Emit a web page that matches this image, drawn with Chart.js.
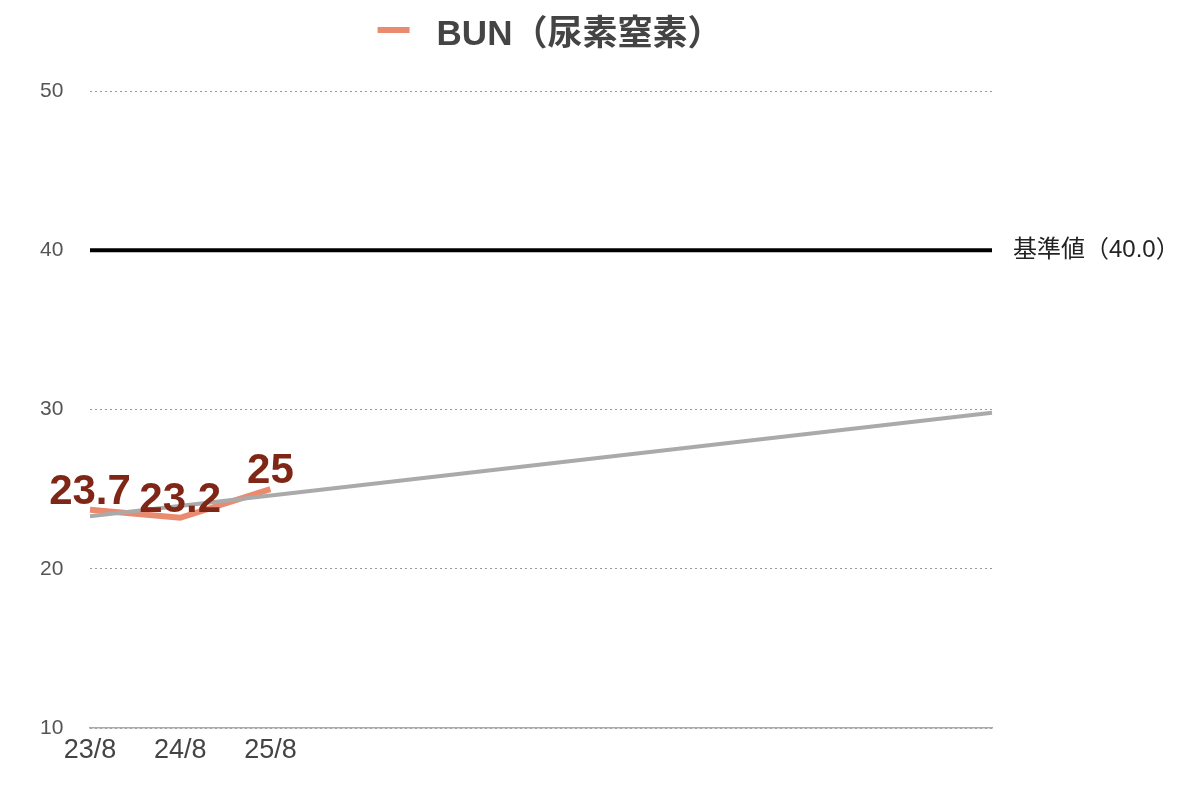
<!DOCTYPE html>
<html lang="ja">

<head>
    <meta charset="UTF-8">
    <title>BUN（尿素窒素）</title>
    <script src="https://cdn.jsdelivr.net/npm/chart.js"></script>
    <style>
        body { margin: 0; background: #fff; }
    </style>
</head>

<body>
    <canvas id="myChart" width="1188" height="790"></canvas>
    <script>
        // data
        const labels = ['23/8', '24/8', '25/8', '', '', '', '', '', '', '', ''];
        const bunValues = [23.7, 23.2, 25, null, null, null, null, null, null, null, null];
        const trendValues = [23.3, null, null, null, null, null, null, null, null, null, 29.8];
        const referenceValues = [40, 40, 40, 40, 40, 40, 40, 40, 40, 40, 40];
        const legendText = 'BUN（尿素窒素）';
        const referenceText = '基準値（40.0）';

        const FONT = "'Liberation Sans', 'Noto Sans CJK JP', sans-serif";
        const ORANGE = '#ea8b70';

        const extras = {
            id: 'extras',
            afterDraw(chart) {
                const ctx = chart.ctx;
                const area = chart.chartArea;
                const y = chart.scales.y;
                ctx.save();

                // legend
                ctx.font = 'bold 35px ' + FONT;
                const tw = ctx.measureText(legendText).width;
                const total = 32 + 27 + tw;
                const sx = (area.left + area.right) / 2 - total / 2 + 9;
                ctx.strokeStyle = ORANGE;
                ctx.lineWidth = 6;
                ctx.beginPath();
                ctx.moveTo(sx, 30);
                ctx.lineTo(sx + 32, 30);
                ctx.stroke();
                ctx.fillStyle = '#444';
                ctx.textBaseline = 'alphabetic';
                ctx.textAlign = 'left';
                ctx.fillText(legendText, sx + 59, 45);

                // reference label
                ctx.font = '24px ' + FONT;
                ctx.fillStyle = '#222';
                ctx.textBaseline = 'middle';
                ctx.fillText(referenceText, area.right + 21, y.getPixelForValue(40));

                // value labels
                const meta = chart.getDatasetMeta(1);
                ctx.font = 'bold 42px ' + FONT;
                ctx.fillStyle = '#802617';
                ctx.textAlign = 'center';
                ctx.textBaseline = 'alphabetic';
                bunValues.forEach((v, i) => {
                    if (v === null) return;
                    const pt = meta.data[i];
                    ctx.fillText(String(v), pt.x, pt.y - 6);
                });
                ctx.restore();
            }
        };

        const ctx = document.getElementById('myChart').getContext('2d');
        const myChart = new Chart(ctx, {
            type: 'line',
            data: {
                labels: labels,
                datasets: [{
                    label: 'trend',
                    data: trendValues,
                    borderColor: '#aaaaaa',
                    borderWidth: 4,
                    pointRadius: 0,
                    spanGaps: true
                }, {
                    label: legendText,
                    data: bunValues,
                    borderColor: ORANGE,
                    borderWidth: 6,
                    pointRadius: 0
                }, {
                    label: 'reference',
                    data: referenceValues,
                    borderColor: '#000',
                    borderWidth: 4,
                    pointRadius: 0
                }]
            },
            options: {
                responsive: false,
                animation: false,
                layout: {
                    padding: { left: 40, right: 196, top: 91, bottom: 0 }
                },
                plugins: {
                    legend: { display: false },
                    tooltip: { enabled: false }
                },
                scales: {
                    x: {
                        grid: { display: false, drawTicks: false },
                        border: { color: '#aaa', width: 1.5 },
                        ticks: {
                            color: '#444',
                            font: { family: FONT, size: 27 },
                            padding: 6,
                            maxRotation: 0,
                            autoSkip: false
                        },
                        afterFit(scale) { scale.height = 62; }
                    },
                    y: {
                        min: 10,
                        max: 50,
                        grid: { color: '#999', lineWidth: 1, drawTicks: false },
                        border: { display: false, dash: [2, 3] },
                        ticks: {
                            stepSize: 10,
                            color: '#555',
                            crossAlign: 'far',
                            font: { family: FONT, size: 21 }
                        },
                        afterFit(scale) { scale.width = 50; }
                    }
                }
            },
            plugins: [extras]
        });
    </script>
</body>

</html>
